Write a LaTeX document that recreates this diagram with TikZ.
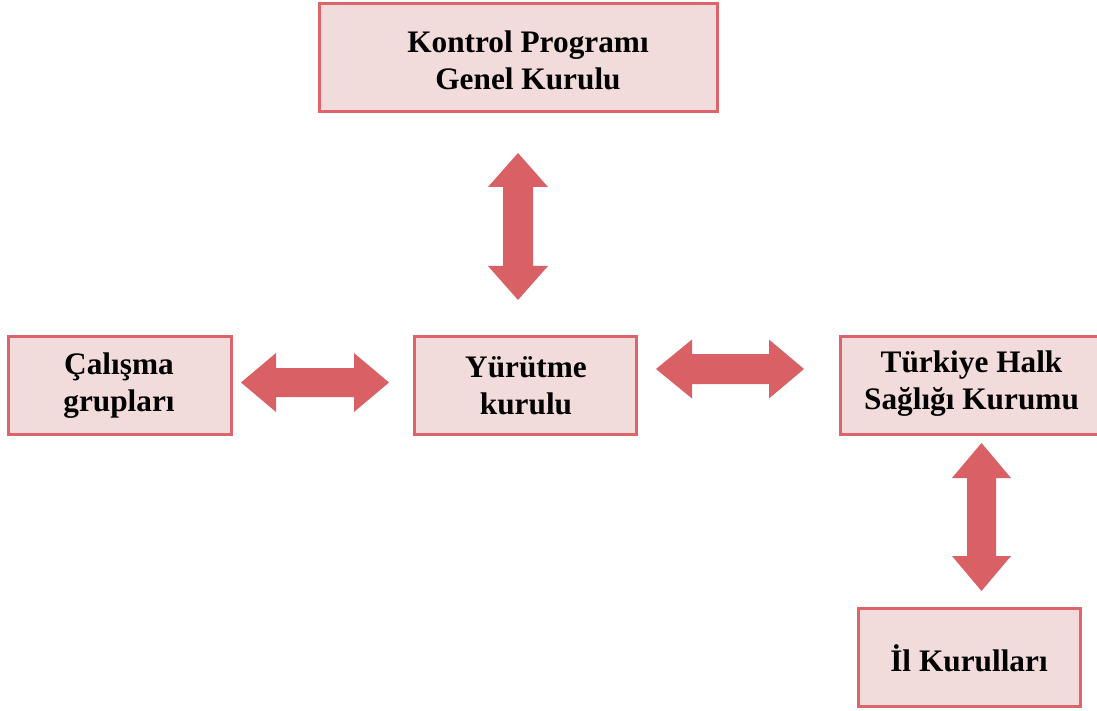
\documentclass[tikz,border=0pt]{standalone}
\usepackage{fontspec}
\setmainfont{Liberation Serif}
\definecolor{boxfill}{RGB}{242,220,219}
\definecolor{boxline}{RGB}{220,100,106}
\definecolor{arrowfill}{RGB}{217,97,101}
\tikzset{
  orgbox/.style={draw=boxline, fill=boxfill, line width=3pt, rectangle, inner sep=0pt},
  orgtext/.style={font=\bfseries\fontsize{31.3}{37}\selectfont, align=center, text=black, inner sep=0pt},
  blockarrow/.style={fill=arrowfill, draw=none}
}
\begin{document}
\begin{tikzpicture}[x=1pt,y=-1pt]
\clip (0,0) rectangle (1097,711);
\useasboundingbox (0,0) rectangle (1097,711);
% boxes
\node[orgbox, minimum width=398pt, minimum height=108pt] (kpgk) at (518,58) {};
\node[orgtext] (kpgkt) at (528,60) {Kontrol Programı\\Genel Kurulu};
\node[orgbox, minimum width=223pt, minimum height=98pt] (calisma) at (119.5,385) {};
\node[orgtext] (calismat) at (119,386) {Çalışma\\grupları};
\node[orgbox, minimum width=222pt, minimum height=98pt] (yurutme) at (525,385) {};
\node[orgtext] (yurutmet) at (526,386) {Yürütme\\kurulu};
\node[orgbox, minimum width=280pt, minimum height=98pt] (thsk) at (980,385) {};
\node[orgtext] (thskt) at (971.5,384) {Türkiye Halk\\Sağlığı Kurumu};
\node[orgbox, minimum width=222pt, minimum height=98pt] (il) at (969,657) {};
\node[orgtext] (ilt) at (969,658) {İl Kurulları};
% block arrows
% top vertical (kpgk <-> yurutme)
\fill[blockarrow] (518,153) -- (548,187) -- (533,187) -- (533,266) -- (548,266) -- (518,300)
  -- (488,266) -- (503,266) -- (503,187) -- (488,187) -- cycle;
% left horizontal (calisma <-> yurutme)
\fill[blockarrow] (241,382.5) -- (276,353) -- (276,368) -- (354,368) -- (354,353) -- (389,382.5)
  -- (354,412) -- (354,397) -- (276,397) -- (276,412) -- cycle;
% right horizontal (yurutme <-> thsk)
\fill[blockarrow] (656,369) -- (692,339.5) -- (692,354) -- (769,354) -- (769,339.5) -- (804,369)
  -- (769,398.5) -- (769,384) -- (692,384) -- (692,398.5) -- cycle;
% bottom vertical (thsk <-> il)
\fill[blockarrow] (981.5,443) -- (1011,478) -- (996,478) -- (996,556) -- (1011,556) -- (981.5,591)
  -- (952,556) -- (967,556) -- (967,478) -- (952,478) -- cycle;
\end{tikzpicture}
\end{document}
